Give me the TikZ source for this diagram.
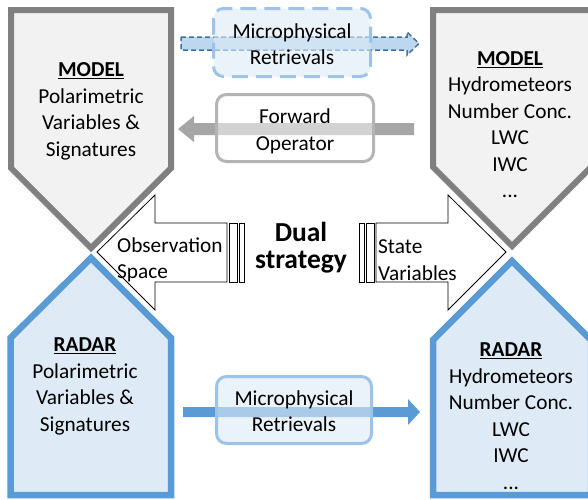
\documentclass[tikz,border=0pt]{standalone}
\usepackage{fontspec}
\setmainfont{Carlito}
\definecolor{mgray}{HTML}{808080}
\definecolor{mfill}{HTML}{F2F2F2}
\definecolor{rblue}{HTML}{5B9BD5}
\definecolor{rfill}{HTML}{DEEBF7}
\definecolor{lblue}{HTML}{9DC3E6}
\definecolor{dblue}{HTML}{41719C}
\definecolor{afill}{HTML}{BDD7EE}
\definecolor{agray}{HTML}{A6A6A6}
\definecolor{bgray}{HTML}{B4B4B4}
\begin{document}
\begin{tikzpicture}[x=1pt,y=-1pt, line join=miter,
  txt/.style={font=\fontsize{21.3}{26.5}\selectfont, align=center, inner sep=0pt, text=black},
  lefttxt/.style={txt, align=left, anchor=west},
  bold/.style={font=\fontsize{27.5}{27}\selectfont\bfseries, align=center, inner sep=0pt},
  model/.style={draw=mgray, fill=mfill, line width=6pt},
  radar/.style={draw=rblue, fill=rfill, line width=6.5pt},
  bigarrow/.style={draw=black, fill=white, line width=0.8pt},
  rbox/.style={rounded corners=10pt, line width=3pt}]
\useasboundingbox (0,0) rectangle (588,499);
\clip (0,0) rectangle (588,499);
\fill[white] (0,0) rectangle (588,499);

% pentagons
\draw[model] (11,10) -- (171,10) -- (171,168) -- (91,248) -- (11,168) -- cycle;
\draw[model] (433,10) -- (591,10) -- (591,167) -- (512,246) -- (433,167) -- cycle;
\draw[radar] (91,258) -- (171,338) -- (171,495) -- (10.5,495) -- (10.5,338) -- cycle;
\draw[radar] (512,261) -- (591,340) -- (591,495) -- (433,495) -- (433,340) -- cycle;

% big white striped arrows
\draw[bigarrow] (97,252) -- (155,195) -- (155,223) -- (227,223) -- (227,282) -- (155,282) -- (155,310) -- cycle;
\draw[bigarrow] (229,223) rectangle (237,282);
\draw[bigarrow] (239,223) rectangle (244,282);
\draw[bigarrow] (506,252) -- (448,195) -- (448,223) -- (376,223) -- (376,282) -- (448,282) -- (448,310) -- cycle;
\draw[bigarrow] (366,223) rectangle (374,282);
\draw[bigarrow] (359,223) rectangle (364,282);

% top dashed arrow + box
\draw[draw=dblue, fill=afill, line width=1.5pt, dash pattern=on 5pt off 3pt]
  (181,37) -- (407,37) -- (407,32) -- (419,43.5) -- (407,55) -- (407,50) -- (181,50) -- cycle;
\draw[rbox, draw=lblue, dash pattern=on 16pt off 8pt, fill=rfill, fill opacity=0.6] (213.5,8.5) rectangle (370.5,76.5);

% forward operator arrow + box
\fill[agray] (414,123) -- (194,123) -- (194,116) -- (178,129) -- (194,142) -- (194,135) -- (414,135) -- cycle;
\draw[rbox, draw=bgray, fill=white, fill opacity=0.5] (216.5,94.5) rectangle (373.5,161.5);

% bottom arrow + box
\fill[rblue] (183,407) -- (408,407) -- (408,399) -- (420,412) -- (408,425) -- (408,417) -- (183,417) -- cycle;
\draw[rbox, draw=lblue, fill=rfill, fill opacity=0.6] (216.5,376.5) rectangle (371.5,443.5);

% texts
\node[txt] (tl) at (91,111.5) {\underline{\textbf{MODEL}}\\Polarimetric\\Variables \&\\Signatures};
\node[txt] (tr) at (510,124.5) {\underline{\textbf{MODEL}}\\Hydrometeors\\Number Conc.\\LWC\\IWC\\...};
\node[txt] (bl) at (85,386.5) {\underline{\textbf{RADAR}}\\Polarimetric\\Variables \&\\Signatures};
\node[txt] (br) at (511,416) {\underline{\textbf{RADAR}}\\Hydrometeors\\Number Conc.\\LWC\\IWC\\...};
\node[txt] (mt) at (292,44) {Microphysical\\Retrievals};
\node[txt] (fo) at (295,131.5) {Forward\\Operator};
\node[txt] (mb) at (294,411) {Microphysical\\Retrievals};
\node[bold] (ds) at (301,248) {Dual\\strategy};
\node[lefttxt] (os) at (117,260) {Observation\\Space};
\node[lefttxt] (sv) at (378,260) {State\\Variables};
\end{tikzpicture}
\end{document}
